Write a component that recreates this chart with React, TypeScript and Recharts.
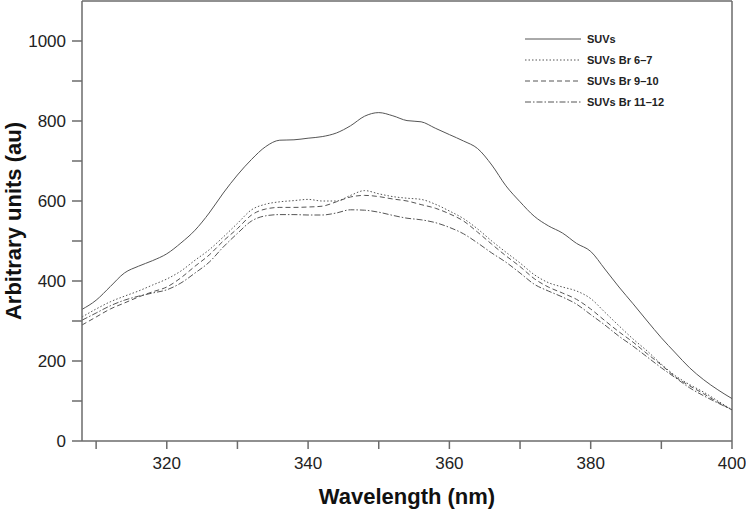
import React from 'react';
import { LineChart, Line, XAxis, YAxis, ReferenceLine } from 'recharts';

// wavelength (nm) sampled every 2 nm
const wavelengths = [
  308, 310, 312, 314, 316, 318, 320, 322, 324, 326, 328, 330, 332, 334, 336, 338,
  340, 342, 344, 346, 348, 350, 352, 354, 356, 358, 360, 362, 364, 366, 368, 370,
  372, 374, 376, 378, 380, 382, 384, 386, 388, 390, 392, 394, 396, 398, 400,
];

const suvs = [
  329, 352, 386, 420, 437, 451, 468, 495, 527, 570, 620, 665, 704, 736, 752, 753,
  757, 761, 770, 788, 812, 821, 813, 801, 798, 782, 766, 750, 731, 690, 638, 598,
  562, 538, 520, 494, 474, 430, 385, 343, 300, 258, 220, 183, 153, 128, 106,
];

const suvsBr67 = [
  310, 330, 348, 362, 375, 390, 405, 425, 452, 478, 510, 544, 578, 592, 598, 601,
  604, 600, 600, 614, 626, 618, 611, 607, 604, 592, 575, 556, 530, 500, 472, 445,
  416, 396, 385, 375, 356, 322, 288, 255, 225, 192, 163, 141, 122, 100, 78,
];

const suvsBr910 = [
  290, 310, 330, 345, 360, 373, 385, 408, 437, 465, 500, 531, 565, 580, 584, 584,
  585, 587, 598, 610, 614, 611, 605, 600, 591, 582, 568, 550, 522, 492, 463, 436,
  406, 385, 370, 354, 330, 301, 273, 247, 218, 190, 160, 138, 118, 97, 78,
];

const suvsBr1112 = [
  302, 320, 338, 352, 362, 370, 378, 395, 420, 447, 485, 519, 550, 563, 566, 566,
  565, 565, 570, 578, 577, 572, 564, 557, 553, 546, 534, 518, 495, 470, 447, 420,
  392, 375, 360, 342, 316, 290, 262, 237, 210, 183, 158, 133, 113, 95, 78,
];

const xTicks = [310, 320, 330, 340, 350, 360, 370, 380, 390, 400];
const yTicks = [0, 100, 200, 300, 400, 500, 600, 700, 800, 900, 1000];

const data = wavelengths.map((wl, i) => ({
  wl,
  a: suvs[i],
  b: suvsBr67[i],
  c: suvsBr910[i],
  d: suvsBr1112[i],
}));

const FONT = '"Liberation Sans", Arial, sans-serif';
const AXIS = '#6b6b6b';
const LINE = '#555';

const series = [
  { key: 'a', name: 'SUVs', dash: undefined },
  { key: 'b', name: 'SUVs Br 6–7', dash: '1.5 2' },
  { key: 'c', name: 'SUVs Br 9–10', dash: '5 3' },
  { key: 'd', name: 'SUVs Br 11–12', dash: '6 2 1.5 2' },
];

const XTick = (props: any) => {
  const { x, y, payload } = props;
  if (payload.value % 20 !== 0) return <g />;
  return (
    <text x={x} y={y} dy={18} textAnchor="middle" fontSize={17} fill="#222" fontFamily={FONT}>
      {payload.value}
    </text>
  );
};

const YTick = (props: any) => {
  const { x, y, payload } = props;
  if (payload.value % 200 !== 0) return <g />;
  return (
    <text x={x} y={y} dy={6} textAnchor="end" fontSize={17} fill="#222" fontFamily={FONT}>
      {payload.value}
    </text>
  );
};

const YTitle = (props: any) => {
  const { viewBox } = props;
  const cx = viewBox.x + 21;
  const cy = viewBox.y + viewBox.height / 2;
  return (
    <text
      transform={`translate(${cx},${cy}) rotate(-90)`}
      textAnchor="middle"
      fontFamily={FONT}
      fontSize={22}
      fontWeight="bold"
      fill="#111"
    >
      Arbitrary units (au)
    </text>
  );
};

const LegendBox = () => (
  <div
    style={{
      position: 'absolute',
      left: 525,
      top: 28,
      fontFamily: FONT,
      fontSize: 11,
      fontWeight: 'bold',
      color: '#222',
    }}
  >
    {series.map((s) => (
      <div key={s.key} style={{ display: 'flex', alignItems: 'center', height: 21 }}>
        <svg width={56} height={4} style={{ marginRight: 6 }}>
          <line x1={0} y1={2} x2={56} y2={2} stroke={LINE} strokeWidth={1} strokeDasharray={s.dash} />
        </svg>
        <span>{s.name}</span>
      </div>
    ))}
  </div>
);

const App = () => {
  return (
    <div style={{ position: 'absolute', left: 0, top: 0, width: 746, height: 511, background: '#fff' }}>
      <LineChart width={746} height={511} data={data} margin={{ top: 1, right: 14, bottom: 0, left: 0 }}>
        <XAxis
          dataKey="wl"
          type="number"
          domain={[308, 400]}
          allowDataOverflow
          ticks={xTicks}
          interval={0}
          height={70}
          tickSize={8}
          stroke={AXIS}
          strokeWidth={1.5}
          tick={<XTick />}
          label={{
            value: 'Wavelength (nm)',
            position: 'insideBottom',
            offset: 7,
            style: { fontFamily: FONT, fontSize: 22, fontWeight: 'bold', fill: '#111' },
          }}
        />
        <YAxis
          type="number"
          domain={[0, 1100]}
          ticks={yTicks}
          interval={0}
          width={82}
          tickSize={10}
          tickMargin={6}
          stroke={AXIS}
          strokeWidth={1.5}
          tick={<YTick />}
          label={{ content: <YTitle /> }}
        />
        <ReferenceLine y={1100} stroke={AXIS} strokeWidth={1.5} />
        <ReferenceLine x={400} stroke={AXIS} strokeWidth={1.5} />
        {series.map((s) => (
          <Line
            key={s.key}
            dataKey={s.key}
            name={s.name}
            type="monotone"
            stroke={LINE}
            strokeWidth={1}
            strokeDasharray={s.dash}
            dot={false}
            activeDot={false}
            isAnimationActive={false}
          />
        ))}
      </LineChart>
      <LegendBox />
    </div>
  );
};

export default App;
